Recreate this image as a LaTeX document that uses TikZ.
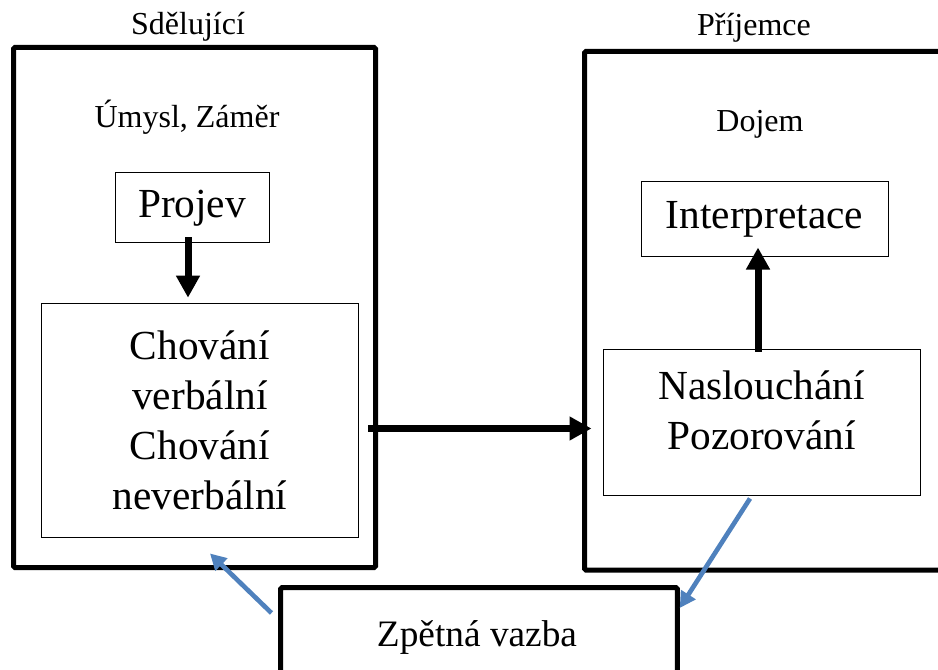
\documentclass[tikz,border=0pt]{standalone}
\usepackage{fontspec}
\setmainfont{Liberation Serif}
\usepackage{tikz}
\usetikzlibrary{arrows.meta, positioning, calc}
\definecolor{feedblue}{RGB}{79, 129, 189}
\tikzset{
  outerbox/.style={draw, line width=3.75pt, rounded corners=1pt, inner sep=0pt},
  innerbox/.style={draw, line width=0.75pt, inner sep=0pt, align=center,
    font=\fontsize{31}{37.5}\selectfont},
  titletext/.style={inner sep=0pt, font=\fontsize{24}{28}\selectfont},
  mainarrow/.style={line width=5.25pt, -{Triangle[length=16.5pt, width=17pt]}},
  feedarrow/.style={draw=feedblue, line width=3.5pt, -{Triangle[length=12pt, width=12.5pt]}}
}

\begin{document}
\begin{tikzpicture}[x=0.75pt, y=-0.75pt]
  \useasboundingbox (0,0) rectangle (938,670);
  \clip (0,0) rectangle (938,670);

  % Sdelujici
  \node[outerbox, minimum width=271.5pt, minimum height=390pt] (sender) at (194.5, 307.5) {};
  \node[titletext] (sendertitle) at (188, 27) {Sdělující};
  \node[titletext] (intent) at (187, 117) {Úmysl, Záměr};
  \node[innerbox, minimum width=115.5pt, minimum height=52.5pt] (projev) at (192, 208) {Projev};
  \node[innerbox, minimum width=237.75pt, minimum height=176pt] (chovani) at (200, 420.5)
    {Chování\\verbální\\Chování\\neverbální};

  % Prijemce
  \node[outerbox, minimum width=281.6pt, minimum height=388.9pt] (receiver) at (772.25, 310.75) {};
  \node[titletext] (receivertitle) at (754, 28) {Příjemce};
  \node[titletext] (impression) at (760, 124) {Dojem};
  \node[innerbox, minimum width=185.25pt, minimum height=56.25pt] (interp) at (764.5, 219.5) {Interpretace};
  \node[innerbox, minimum width=237.75pt, minimum height=109.5pt, text depth=18pt] (listen) at (761.5, 422)
    {Naslouchání\\Pozorování};

  % Zpetna vazba
  \node[outerbox, minimum width=297.4pt, minimum height=112.5pt, anchor=north] (feedback) at (479, 585) {};
  \node[inner sep=0pt, font=\fontsize{28}{33}\selectfont] (feedbacktext) at (477, 637) {Zpětná vazba};

  % black arrows
  \draw[mainarrow] ($(projev.south)+(-4,-6)$) -- ($(chovani.north)+(-12,-5)$);
  \draw[mainarrow, shorten <=6.75pt, shorten >=8.25pt] ($(chovani.east)+(0,8)$) -- ($(listen.west |- chovani.east)+(0,8)$);
  \draw[mainarrow] ($(listen.north)+(-3.5,3)$) -- ($(interp.south)+(-6.5,-10)$);

  % feedback arrows
  \draw[feedarrow] ($(feedback.north west)+(-6.75,28)$) -- ($(sender.south)+(15.5,-16.5)$);
  \draw[feedarrow] ($(listen.south)+(-11.5,3)$) -- ($(feedback.north east)+(0,23)$);
\end{tikzpicture}
\end{document}
